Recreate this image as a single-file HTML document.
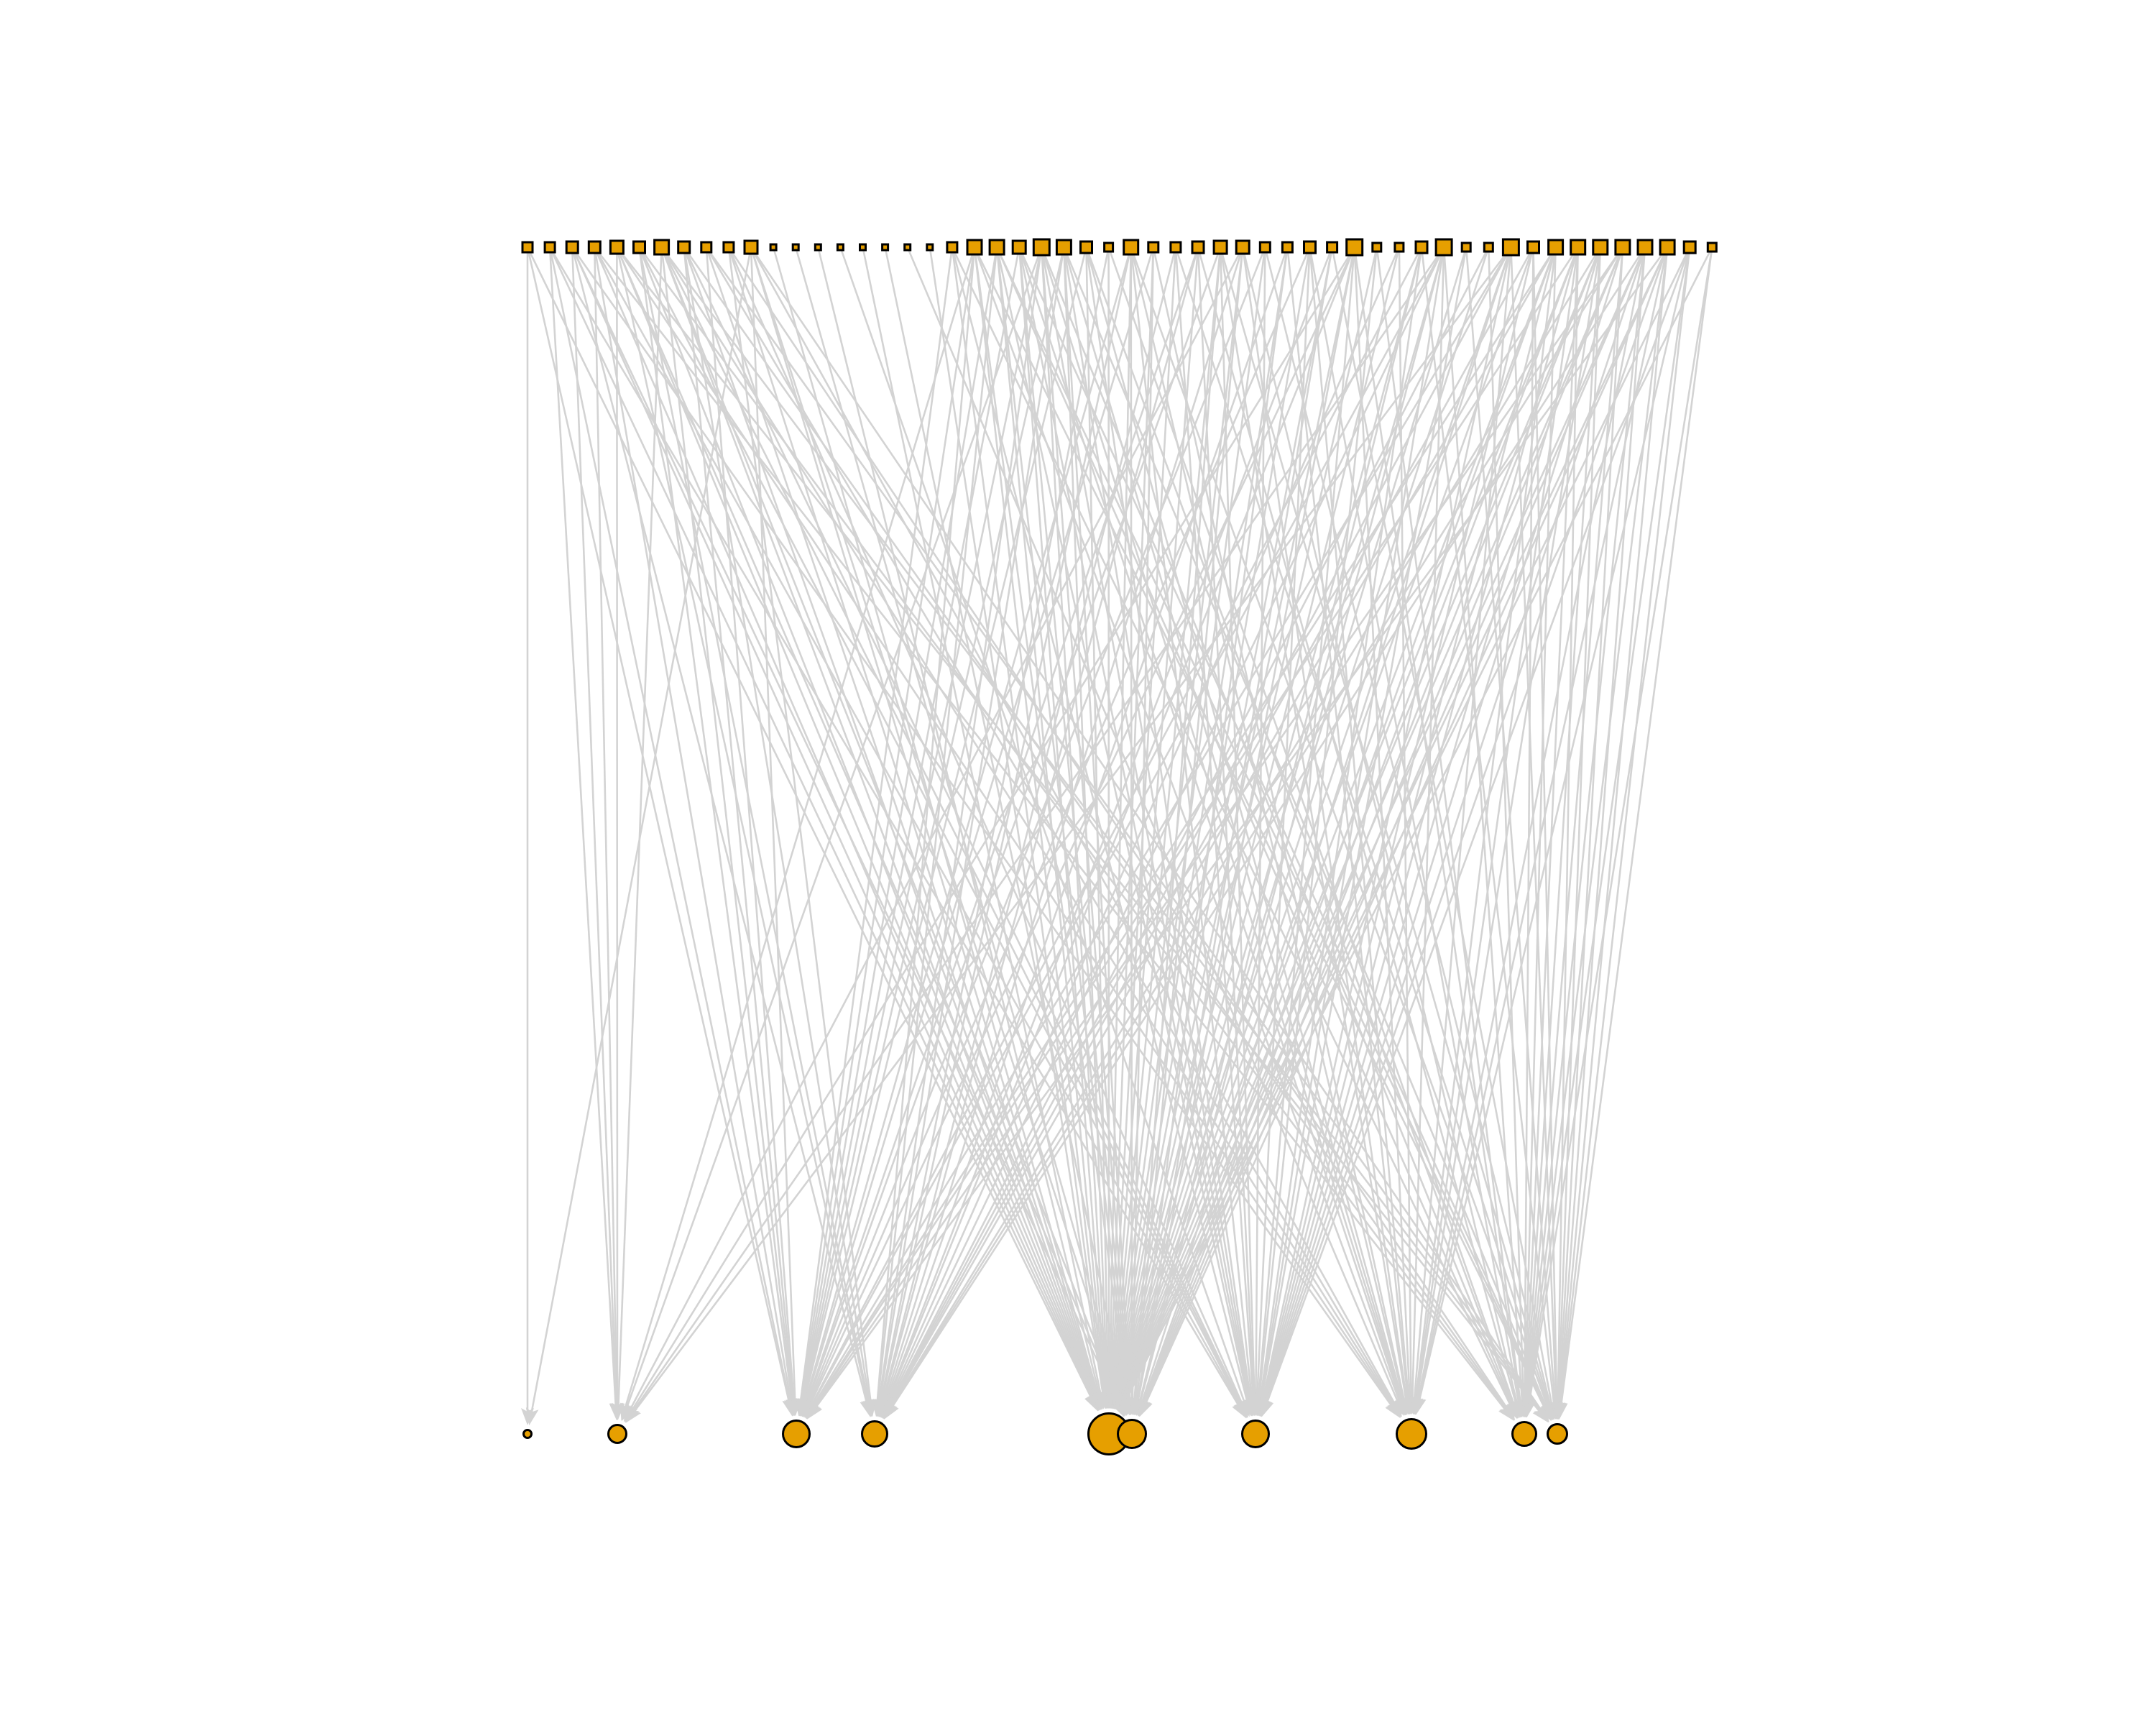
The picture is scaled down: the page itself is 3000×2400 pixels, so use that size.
<!DOCTYPE html>
<html><head><meta charset="utf-8"><style>html,body{margin:0;padding:0;background:#fff}svg{display:block}</style></head>
<body>
<svg id="chart" width="3000" height="2400" viewBox="0 0 3000 2400" xmlns="http://www.w3.org/2000/svg">
<rect width="3000" height="2400" fill="#fff"/>
<g id="edges"></g>
<g id="tops"></g>
<g id="bottoms"></g>
</svg>
<script>
const topSizes = [17,17,19,19,21,19,23,19,17,17,21,11,11,11,11,11,11,11,11,17,23,23,21,25,23,19,15,23,17,17,19,21,21,17,17,19,17,25,15,15,19,25,15,15,25,19,23,23,23,23,23,23,19,15];
const bottomX = [734,859,1108,1217,1543,1575,1747,1964,2121,2167];
const bottomR = [7,14,20,19,30,21,20,22,18,15];
const adjacency = [
[0,2,4],[1,2,4,6],[1,3,4,7,5],[1,2,4,6,8],[1,3,4,5,7,9],[2,4,6,8,3],[1,2,4,5,6,7,9],[2,3,4,6,8],[2,4,7,9],[3,4,6,8],
[0,2,4,5,7,9],[4],[5],[4],[6],[4],[5],[7],[4],[2,4,6,8],
[1,2,3,4,5,7,9],[2,3,4,5,6,8,9],[2,4,5,6,7,9],[1,2,3,4,5,6,7,8],[2,3,4,5,6,7,9],[2,4,6,7,8],[3,4,8],[2,3,4,5,6,7,9],[2,4,5,7],[3,4,6,9],
[2,3,4,6,8],[2,4,5,6,7,9],[1,3,4,5,7,8],[2,4,6,9],[3,4,5,7],[2,4,6,7,8],[3,4,5,9],[1,2,3,4,5,6,7,8],[4,6,8],[3,4,7],
[2,4,5,6,9],[1,2,3,4,5,6,7,8],[4,6,9],[3,4,8],[1,2,3,4,5,6,7,9],[3,4,6,8,9],[2,3,4,5,6,7,8],[2,4,5,6,7,8,9],[3,4,5,6,7,8,9],[2,3,4,5,6,8,9],
[3,4,5,6,7,8,9],[2,4,5,6,7,8,9],[4,6,7,8,9],[4,8,9]
];
const NS = "http://www.w3.org/2000/svg";
const topY = 344, botY = 1995, x0 = 734, dx = 31.1;
function topXf(i){ return x0 + i*dx; }
const eg = document.getElementById('edges');
adjacency.forEach((ts,i)=>{
  ts.forEach(t=>{
    const sx = topXf(i), sy = topY, tx = bottomX[t], ty = botY;
    const L = Math.hypot(tx-sx, ty-sy), ux=(tx-sx)/L, uy=(ty-sy)/L;
    const tipX = tx - ux*(bottomR[t]+5), tipY = ty - uy*(bottomR[t]+5);
    const al = 24, aw = 9;
    const bx = tipX - ux*al, by = tipY - uy*al;
    const line = document.createElementNS(NS,'line');
    
    
    line.setAttribute('x1',sx); line.setAttribute('y1',sy);
    line.setAttribute('x2',bx+ux*4); line.setAttribute('y2',by+uy*4);
    line.setAttribute('stroke','#d3d3d3'); line.setAttribute('stroke-width','2.6');
    eg.appendChild(line);
    const arr = document.createElementNS(NS,'polygon');
    
    
    arr.setAttribute('points', `${tipX},${tipY} ${bx-uy*aw},${by+ux*aw} ${bx+ux*5},${by+uy*5} ${bx+uy*aw},${by-ux*aw}`);
    arr.setAttribute('fill','#d3d3d3');
    eg.appendChild(arr);
  });
});
const tg = document.getElementById('tops');
topSizes.forEach((s,i)=>{
  const r = document.createElementNS(NS,'rect');
  
  
  const w = s-3;
  r.setAttribute('x', topXf(i)-w/2); r.setAttribute('y', topY-w/2);
  r.setAttribute('width', w); r.setAttribute('height', w);
  r.setAttribute('fill','#E69F00'); r.setAttribute('stroke','#000'); r.setAttribute('stroke-width','3');
  tg.appendChild(r);
});
const bg = document.getElementById('bottoms');
bottomX.forEach((x,i)=>{
  const c = document.createElementNS(NS,'circle');
  
  
  c.setAttribute('cx', x); c.setAttribute('cy', botY); c.setAttribute('r', bottomR[i]-1.5);
  c.setAttribute('fill','#E69F00'); c.setAttribute('stroke','#000'); c.setAttribute('stroke-width','3');
  bg.appendChild(c);
});
</script>
</body></html>
